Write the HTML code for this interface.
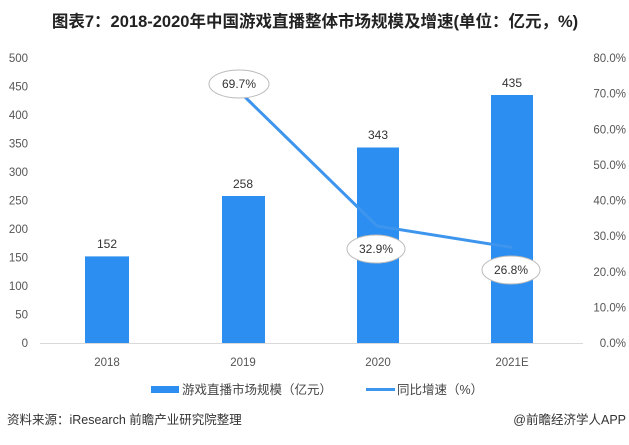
<!DOCTYPE html>
<html><head><meta charset="utf-8"><style>
body{margin:0;background:#fff;}
svg text{font-family:"Liberation Sans","Noto Sans CJK SC",sans-serif;}
</style></head><body>
<svg width="629" height="440" viewBox="0 0 629 440" xmlns="http://www.w3.org/2000/svg">
<rect width="629" height="440" fill="#fff"/>
<text x="315" y="27" text-anchor="middle" font-size="16.5" font-weight="bold" fill="#222">图表7：2018-2020年中国游戏直播整体市场规模及增速(单位：亿元，%)</text>
<g font-size="11.5" fill="#555">
<text x="28" y="62" text-anchor="end">500</text>
<text x="28" y="90.5" text-anchor="end">450</text>
<text x="28" y="119" text-anchor="end">400</text>
<text x="28" y="147.5" text-anchor="end">350</text>
<text x="28" y="176" text-anchor="end">300</text>
<text x="28" y="204.5" text-anchor="end">250</text>
<text x="28" y="233" text-anchor="end">200</text>
<text x="28" y="261.5" text-anchor="end">150</text>
<text x="28" y="290" text-anchor="end">100</text>
<text x="28" y="318.5" text-anchor="end">50</text>
<text x="28" y="347" text-anchor="end">0</text>
<text x="626" y="62" text-anchor="end">80.0%</text>
<text x="626" y="97.6" text-anchor="end">70.0%</text>
<text x="626" y="133.3" text-anchor="end">60.0%</text>
<text x="626" y="168.9" text-anchor="end">50.0%</text>
<text x="626" y="204.5" text-anchor="end">40.0%</text>
<text x="626" y="240.1" text-anchor="end">30.0%</text>
<text x="626" y="275.8" text-anchor="end">20.0%</text>
<text x="626" y="311.4" text-anchor="end">10.0%</text>
<text x="626" y="347" text-anchor="end">0.0%</text>
</g>
<line x1="40" y1="343.5" x2="583" y2="343.5" stroke="#d9d9d9" stroke-width="1"/>
<g fill="#2b8ef0">
<rect x="85" y="256.4" width="44" height="86.6"/>
<rect x="222" y="196" width="43" height="147"/>
<rect x="357" y="147.5" width="42" height="195.5"/>
<rect x="491" y="95" width="42" height="248"/>
</g>
<g font-size="12" fill="#333" text-anchor="middle">
<text x="107" y="248">152</text>
<text x="243" y="188">258</text>
<text x="378" y="139">343</text>
<text x="512" y="87">435</text>
</g>
<polyline points="245,97 377,226 512,247.5" fill="none" stroke="#3d95ee" stroke-width="3"/>
<g fill="#fff" stroke="#bbb" stroke-width="1">
<ellipse cx="239" cy="84" rx="30" ry="14"/>
<ellipse cx="376" cy="249" rx="29" ry="14"/>
<ellipse cx="511" cy="270" rx="29" ry="14"/>
</g>
<g font-size="12" fill="#333" text-anchor="middle">
<text x="239" y="88">69.7%</text>
<text x="376" y="253">32.9%</text>
<text x="511" y="274">26.8%</text>
</g>
<g font-size="11.5" fill="#555" text-anchor="middle">
<text x="107" y="366">2018</text>
<text x="243" y="366">2019</text>
<text x="378" y="366">2020</text>
<text x="512" y="366">2021E</text>
</g>
<rect x="151" y="386" width="28" height="7" fill="#2b8ef0"/>
<text x="182" y="394" font-size="12.5" fill="#444">游戏直播市场规模（亿元）</text>
<line x1="366" y1="389.5" x2="395" y2="389.5" stroke="#3d95ee" stroke-width="3"/>
<text x="397" y="394" font-size="12.5" fill="#444">同比增速（%）</text>
<text x="7" y="424" font-size="12.5" fill="#333">资料来源：iResearch 前瞻产业研究院整理</text>
<text x="626" y="424" font-size="12.5" fill="#333" text-anchor="end">@前瞻经济学人APP</text>
</svg>
</body></html>
